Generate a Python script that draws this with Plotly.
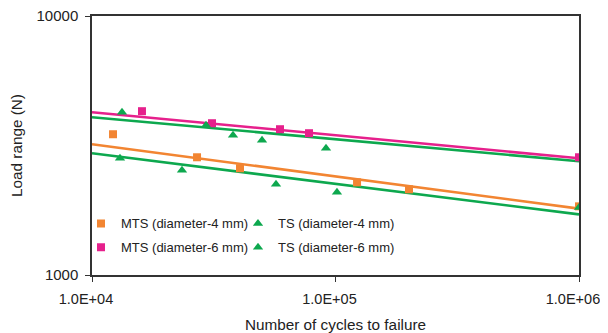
import plotly.graph_objects as go

# ---- data ----
mts4_x = [12200, 27000, 40530, 122600, 200400, 1000000]
mts4_y = [3495, 2848, 2582, 2279, 2142, 1841]

ts4_x = [13030, 23420, 56970, 101400, 1000000]
ts4_y = [2823, 2536, 2239, 2085, 1824]

mts6_x = [16040, 31100, 59180, 77840, 1000000]
mts6_y = [4290, 3855, 3655, 3527, 2848]

ts6_x = [13280, 29390, 37940, 49920, 91410]
ts6_y = [4253, 3787, 3465, 3314, 3086]

# power-law trend lines (values at the ends of the x range)
trend_x = [10000, 1000000]
trend_mts4 = [3197, 1804]
trend_ts4 = [2951, 1714]
trend_mts6 = [4253, 2822]
trend_ts6 = [4068, 2748]

x_ticks = [10000, 100000, 1000000]
x_tick_labels = ["1.0E+04", "1.0E+05", "1.0E+06"]
y_ticks = [1000, 10000]
y_tick_labels = ["1000", "10000"]

ORANGE = "#F28532"
MAGENTA = "#E6208C"
GREEN = "#0DA84E"
FONT = "Liberation Sans, Arial, Helvetica, sans-serif"

fig = go.Figure()

# trend lines
for ty, col in [(trend_mts4, ORANGE), (trend_ts4, GREEN), (trend_mts6, MAGENTA), (trend_ts6, GREEN)]:
    fig.add_trace(go.Scatter(x=trend_x, y=ty, mode="lines",
                             line=dict(color=col, width=2.6),
                             showlegend=False, hoverinfo="skip"))

# markers
fig.add_trace(go.Scatter(x=mts4_x, y=mts4_y, mode="markers", name="MTS (diameter-4 mm)",
                         marker=dict(symbol="square", size=8, color=ORANGE),
                         legend="legend", legendgroup="a"))
fig.add_trace(go.Scatter(x=ts4_x, y=ts4_y, mode="markers", name="TS (diameter-4 mm)",
                         marker=dict(symbol="triangle-up", size=9, color=GREEN),
                         legend="legend2", legendgroup="b"))
fig.add_trace(go.Scatter(x=mts6_x, y=mts6_y, mode="markers", name="MTS (diameter-6 mm)",
                         marker=dict(symbol="square", size=8, color=MAGENTA),
                         legend="legend", legendgroup="c"))
fig.add_trace(go.Scatter(x=ts6_x, y=ts6_y, mode="markers", name="TS (diameter-6 mm)",
                         marker=dict(symbol="triangle-up", size=9, color=GREEN),
                         legend="legend2", legendgroup="d"))

axis_common = dict(
    type="log", showgrid=False, zeroline=False, automargin=False,
    showline=True, linecolor="#333333", linewidth=1.5, mirror=True,
    ticks="outside", ticklen=5, tickcolor="#333333", tickwidth=1,
    ticklabeloverflow="allow",
    tickfont=dict(family=FONT, size=15, color="#222222"),
)

# the page body adds an 8px offset, so the figure is sized 8px smaller
fig.update_layout(
    width=600, height=325,
    margin=dict(l=84, r=29, t=8, b=58, autoexpand=False),
    paper_bgcolor="white", plot_bgcolor="white",
    font=dict(family=FONT, color="#222222"),
    xaxis=dict(axis_common, range=[4, 6], tickvals=x_ticks, ticktext=x_tick_labels,
               ticklabelstandoff=5, ticklabelshift=-6,
               tickfont=dict(family=FONT, size=14.5, color="#222222"),
               title=dict(text="Number of cycles to failure", font=dict(family=FONT, size=15.3), standoff=16)),
    yaxis=dict(axis_common, range=[3, 4], tickvals=y_ticks, ticktext=y_tick_labels,
               ticklabelstandoff=4,
               title=dict(text="Load range (N)", font=dict(family=FONT, size=15.3), standoff=15)),
    legend=dict(x=-0.0226, y=0.257, xanchor="left", yanchor="top",
                bgcolor="rgba(0,0,0,0)", font=dict(family=FONT, size=13, color="#222222"),
                tracegroupgap=4, itemwidth=30),
    legend2=dict(x=0.2998, y=0.257, xanchor="left", yanchor="top",
                 bgcolor="rgba(0,0,0,0)", font=dict(family=FONT, size=13, color="#222222"),
                 tracegroupgap=4, itemwidth=30),
)

fig.write_html(
    "out.html",
    post_script="document.documentElement.style.overflow='hidden';document.body.style.overflow='hidden';",
)
